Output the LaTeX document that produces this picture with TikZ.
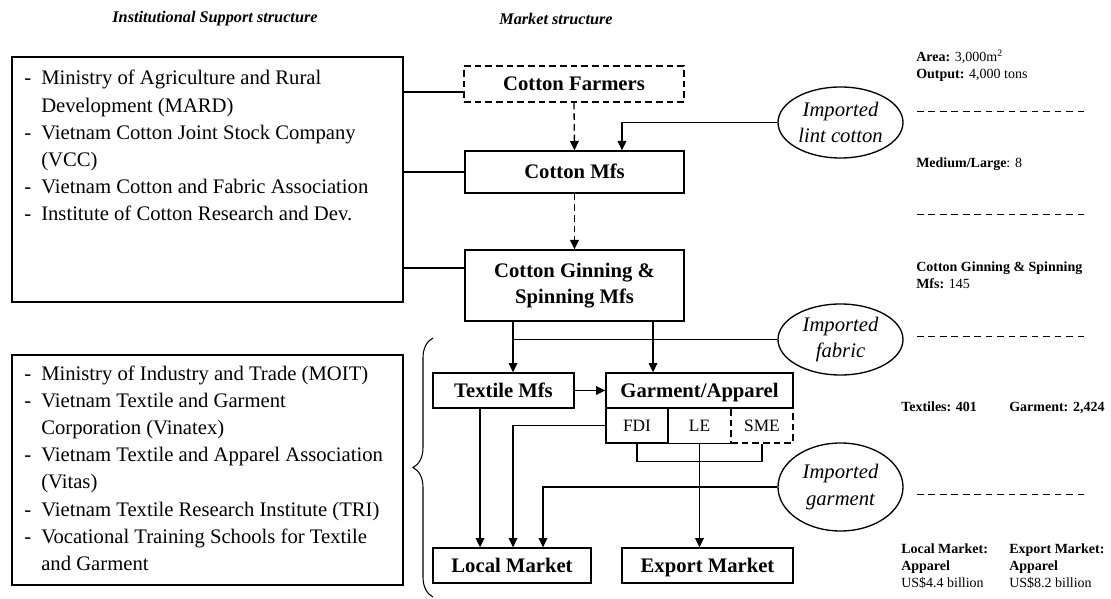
\documentclass[tikz,border=0pt]{standalone}
\usepackage{fontspec}
\setmainfont{Liberation Serif}
\usetikzlibrary{arrows.meta,decorations.pathreplacing,shapes.geometric,calc}
\newcommand\mlines[1]{\begin{tabular}[t]{@{}l@{}}#1\end{tabular}}
\newcommand\dlist[1]{\begin{tabular}[t]{@{}p{12.75pt}@{}l@{}}#1\end{tabular}}
\begin{document}
\begin{tikzpicture}[x=0.75pt,y=-0.75pt,
  sz/.style n args={2}{minimum width=#1*0.75pt,minimum height=#2*0.75pt},
  box/.style={draw,line width=1pt,inner sep=0pt,align=center,
    font=\fontsize{15.5}{19.5}\selectfont\bfseries},
  one/.style={text height=10.5pt,text depth=0.6pt},
  cell/.style={line width=1pt,inner sep=0pt,text height=8.8pt,text depth=0.5pt,
    font=\fontsize{13}{15}\selectfont},
  ell/.style={ellipse,draw,line width=1pt,inner sep=0pt,align=center,
    font=\fontsize{15.5}{20}\selectfont\itshape},
  inst/.style={draw,line width=1pt,inner sep=0pt},
  insttxt/.style={inner sep=0pt,anchor=base west,font=\fontsize{15.5}{20.4}\selectfont},
  rt/.style={inner sep=0pt,anchor=base west,font=\fontsize{10.5}{12.75}\selectfont},
  title/.style={inner sep=0pt,font=\fontsize{12.2}{14}\selectfont\bfseries\itshape},
  ln/.style={line width=1pt},
  arr/.style={line width=1pt,-{Triangle[length=7pt,width=6.5pt]}},
  dsh/.style={dash pattern=on 5pt off 3pt},
  dl/.style={line width=0.6pt,dash pattern=on 5pt off 3.6pt}]
\useasboundingbox (0,0) rectangle (1111,599);

% titles
\node[title] (t1) at (215,19) {Institutional Support structure};
\node[title] (t2) at (556,19) {Market structure};

% institutional boxes
\node[inst,sz={391}{245}] (inst1) at (207.5,179.5) {};
\node[insttxt] (inst1t) at (24,85) {\dlist{- & Ministry of Agriculture and Rural\\
 & Development (MARD)\\
- & Vietnam Cotton Joint Stock Company\\
 & (VCC)\\
- & Vietnam Cotton and Fabric Association\\
- & Institute of Cotton Research and Dev.}};
\node[inst,sz={391}{230}] (inst2) at (207.5,470) {};
\node[insttxt] (inst2t) at (24,380) {\dlist{- & Ministry of Industry and Trade (MOIT)\\
- & Vietnam Textile and Garment\\
 & Corporation (Vinatex)\\
- & Vietnam Textile and Apparel Association\\
 & (Vitas)\\
- & Vietnam Textile Research Institute (TRI)\\
- & Vocational Training Schools for Textile\\
 & and Garment}};

% market boxes
\node[box,one,dsh,sz={220}{36}] (farmers) at (574,84) {Cotton Farmers};
\node[box,one,sz={219}{42}] (cmfs) at (574.5,172) {Cotton Mfs};
\node[box,sz={219}{71}] (gin) at (574.5,285.5) {Cotton Ginning \&\\Spinning Mfs};
\node[box,one,sz={141}{35}] (textile) at (503.5,390.5) {Textile Mfs};
\node[box,one,sz={187}{35}] (garment) at (699.5,390.5) {Garment/Apparel};
\node[cell,draw,sz={62}{35}] (fdi) at (637,425.5) {FDI};
\node[cell,sz={63}{35}] (le) at (699.5,425.5) {LE};
\node[cell,draw,dsh,sz={62}{35}] (sme) at (762,425.5) {SME};
\draw[ln] (le.south west) -- (le.south east);
\node[box,one,sz={158}{35}] (local) at (512,565.5) {Local Market};
\node[box,one,sz={171}{35}] (export) at (707.5,565.5) {Export Market};

% ellipses
\node[ell,sz={125}{71}] (lint) at (840.5,122.5) {Imported\\lint cotton};
\node[ell,sz={125}{71}] (fabric) at (840.5,339.5) {Imported\\fabric};
\node[ell,sz={125}{88}] (garm) at (840.5,487) {Imported\\garment};

% brace
\draw[line width=0.8pt,decorate,decoration={brace,amplitude=15pt}] (433,597) -- (433,338);

% helper coordinates
\coordinate (fw) at ([yshift=-6pt]farmers.west);
\coordinate (gw) at ([yshift=13pt]gin.west);
\coordinate (cin) at ([xshift=35.6pt]cmfs.north);
\coordinate (g1) at ([xshift=-46.1pt]gin.south);
\coordinate (g2) at ([xshift=58.9pt]gin.south);
\coordinate (ts) at ([xshift=-17.6pt]textile.south);
\coordinate (lg) at ([xshift=23.25pt]local.north);

% connectors
\draw[ln] (fw) -- (fw -| inst1.east);
\draw[ln] (cmfs.west) -- (cmfs.west -| inst1.east);
\draw[ln] (gw) -- (gw -| inst1.east);
\draw[arr,dsh] (farmers.south) -- (cmfs.north);
\draw[arr,dsh] (cmfs.south) -- (gin.north);
\draw[arr] (lint.west) -| (cin);
\draw[arr] (g1) -- (g1 |- textile.north);
\draw[arr] (g2) -- (g2 |- garment.north);
\draw[ln] (fabric.west) -- (fabric.west -| g1);
\draw[arr] (textile.east) -- (garment.west);
\draw[arr] (fdi.west) -| (g1 |- local.north);
\draw[arr] (ts) -- (ts |- local.north);
\draw[ln] (fdi.south) -- ++(0,18) -| (sme.south);
\draw[arr] (le.south) -- (le.south |- export.north);
\draw[arr] (garm.west) -| (lg);

% right column
\node[rt] (r1) at (916,62) {\mlines{\textbf{Area:} 3,000m\textsuperscript{2}\\\textbf{Output:} 4,000 tons}};
\node[rt] (r2) at (916,168) {\textbf{Medium/Large}: 8};
\node[rt] (r3) at (916,272) {\mlines{\textbf{Cotton Ginning \& Spinning}\\\textbf{Mfs:} 145}};
\node[rt] (r4) at (901,411) {\textbf{Textiles: 401}};
\node[rt] (r5) at (1009,411) {\textbf{Garment: 2,424}};
\node[rt] (r6) at (901,553) {\mlines{\textbf{Local Market:}\\\textbf{Apparel}\\US\$4.4 billion}};
\node[rt] (r7) at (1009,553) {\mlines{\textbf{Export Market:}\\\textbf{Apparel}\\US\$8.2 billion}};
\draw[dl] (917,111) -- (1088,111);
\draw[dl] (917,214) -- (1088,214);
\draw[dl] (917,336) -- (1088,336);
\draw[dl] (917,494) -- (1088,494);
\end{tikzpicture}
\end{document}
